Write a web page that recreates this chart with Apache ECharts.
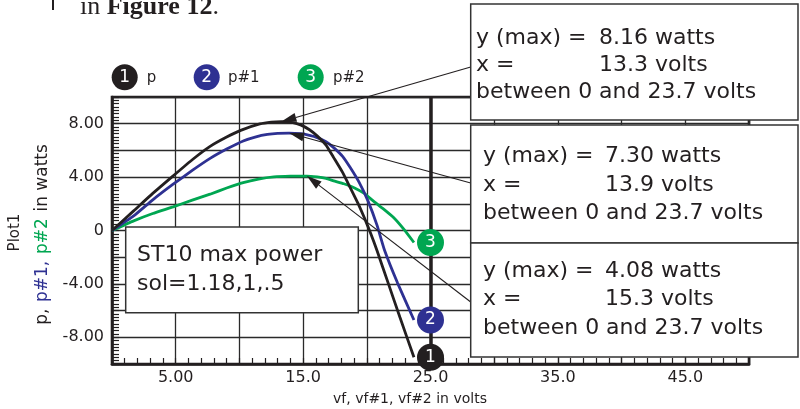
<!DOCTYPE html>
<html>
<head>
<meta charset="utf-8">
<script src="https://cdn.jsdelivr.net/npm/echarts@6/dist/echarts.min.js"></script>
<style>
  html, body { margin: 0; padding: 0; background: #fff; }
  #chart { width: 800px; height: 409px; }
</style>
</head>
<body>
<div id="chart"></div>
<script>
// ST10 power curves: p, p#1, p#2 (watts) against vf, vf#1, vf#2 (volts)
const seriesNames = ['p', 'p#1', 'p#2'];

const pData = [
  [0, 0], [1.7, 1.47], [3.2, 2.78], [4.8, 4.09], [6.3, 5.3], [7.7, 6.3],
  [9.0, 7.0], [10.1, 7.5], [11.6, 7.98], [12.5, 8.12], [13.3, 8.16],
  [14.2, 8.08], [14.8, 7.91], [15.5, 7.55], [16.1, 7.09], [16.8, 6.4],
  [17.4, 5.46], [18.1, 4.35], [18.7, 3.21], [19.3, 2.05], [19.8, 0.97],
  [20.3, -0.2], [20.8, -1.5], [21.7, -4.0], [22.6, -6.5], [23.7, -9.5]
];
const p1Data = [
  [0, 0], [1.7, 1.09], [3.2, 2.3], [4.8, 3.47], [6.3, 4.5], [7.7, 5.4],
  [9.0, 6.1], [10.3, 6.71], [11.3, 7.02], [12.2, 7.2], [13.0, 7.28],
  [13.9, 7.30], [14.8, 7.25], [15.5, 7.12], [16.1, 6.96], [16.8, 6.65],
  [17.4, 6.21], [18.1, 5.55], [18.7, 4.71], [19.4, 3.6], [20.1, 2.2],
  [20.8, 0.4], [21.4, -1.5], [22.4, -3.9], [23.7, -6.7]
];
const p2Data = [
  [0, 0], [1.7, 0.72], [3.2, 1.27], [4.8, 1.77], [6.3, 2.27], [7.7, 2.72],
  [9.0, 3.18], [10.3, 3.59], [11.5, 3.85], [12.7, 4.01], [14.0, 4.07],
  [15.3, 4.08], [16.1, 4.01], [16.8, 3.9], [17.4, 3.72], [18.2, 3.5],
  [19.0, 3.21], [19.8, 2.78], [20.5, 2.22], [21.3, 1.62], [22.1, 0.97],
  [22.9, 0.1], [23.7, -0.9]
];

// Maximum of each curve, as reported in the annotation boxes
const maxY = [8.16, 7.30, 4.08];
const maxX = [13.3, 13.9, 15.3];

// Tick labels shown on the axes
const xTickLabels = { '5': '5.00', '15': '15.0', '25': '25.0', '35': '35.0', '45': '45.0' };
const yTickLabels = { '8': '8.00', '4': '4.00', '0': '0', '-4': '-4.00', '-8': '-8.00' };

const seriesData = [pData, p1Data, p2Data];
const FONT = '"DejaVu Sans"';
const INK = '#231f20';
const colors = ['#231f20', '#2e3192', '#00a651'];
const endTagX = 25;

const chart = echarts.init(document.getElementById('chart'), null, { renderer: 'canvas' });

const option = {
  animation: false,
  backgroundColor: '#fff',
  grid: {
    left: 112, right: 51, top: 97, bottom: 45,
    show: true, borderColor: INK, borderWidth: 2.6, backgroundColor: 'transparent'
  },
  xAxis: {
    type: 'value', min: 0, max: 50, interval: 5,
    axisLine: { show: true, onZero: false, lineStyle: { color: INK, width: 2.6 } },
    axisTick: { show: true, inside: true, length: 6, lineStyle: { color: INK, width: 1.2 } },
    minorTick: { show: true, splitNumber: 5, length: 6, lineStyle: { color: INK, width: 1.2 } },
    splitLine: { show: true, lineStyle: { color: '#2a2a2a', width: 1.3 } },
    axisLabel: {
      formatter: v => xTickLabels[String(v)] || '',
      color: INK, fontFamily: FONT, fontSize: 16, margin: 6
    }
  },
  yAxis: {
    type: 'value', min: -10, max: 10, interval: 2,
    axisLine: { show: true, onZero: false, lineStyle: { color: INK, width: 2.6 } },
    axisTick: { show: true, inside: true, length: 7, lineStyle: { color: INK, width: 1.2 } },
    minorTick: { show: true, splitNumber: 8, length: 7, lineStyle: { color: INK, width: 1.2 } },
    splitLine: { show: true, lineStyle: { color: '#2a2a2a', width: 1.3 } },
    axisLabel: {
      formatter: v => yTickLabels[String(v)] || '',
      color: INK, fontFamily: FONT, fontSize: 16, margin: 8
    }
  },
  series: seriesData.map((d, i) => {
    const s = {
      name: seriesNames[i],
      type: 'line',
      data: d,
      smooth: 0.15,
      showSymbol: false,
      symbol: 'none',
      lineStyle: { color: colors[i], width: 2.8 },
      z: 4 - i,
      markPoint: {
        silent: true,
        symbol: 'circle',
        symbolSize: 27,
        z: 8,
        itemStyle: { color: colors[i] },
        label: {
          show: true, formatter: String(i + 1), color: '#fff',
          fontFamily: FONT, fontSize: 17
        },
        data: [{ coord: [endTagX, d[d.length - 1][1]] }]
      }
    };
    if (i === 0) {
      s.markLine = {
        silent: true,
        symbol: ['none', 'none'],
        z: 1,
        label: { show: false },
        lineStyle: { color: INK, width: 3.5, type: 'solid' },
        data: [{ xAxis: 25 }]
      };
    }
    return s;
  })
};

chart.setOption(option);

// Annotation boxes, arrows, legend and axis titles
const g = [];
const font = (size, weight) => (weight ? weight + ' ' : '') + size + 'px ' + FONT;

// header line
g.push({
  type: 'text', x: 80, y: 7, z: 20,
  style: {
    text: '{a|in }{b|Figure 12}{a|.}',
    verticalAlign: 'middle', align: 'left',
    rich: {
      a: { font: '26px "Liberation Serif"', fill: INK },
      b: { font: 'bold 26px "Liberation Serif"', fill: INK }
    }
  }
});
g.push({ type: 'rect', z: 20, shape: { x: 52, y: 0, width: 2, height: 10 }, style: { fill: INK } });

// legend
const legendCx = [124.7, 206.7, 310.7];
const legendTx = [146.7, 228, 333];
seriesNames.forEach((n, i) => {
  g.push({ type: 'circle', z: 20, shape: { cx: legendCx[i], cy: 77.3, r: 13 }, style: { fill: colors[i] } });
  g.push({
    type: 'text', z: 21, x: legendCx[i], y: 78,
    style: { text: String(i + 1), fill: '#fff', font: font(17), align: 'center', verticalAlign: 'middle' }
  });
  g.push({
    type: 'text', z: 21, x: legendTx[i], y: 78,
    style: { text: n, fill: INK, font: font(15), align: 'left', verticalAlign: 'middle' }
  });
});

// y axis titles
g.push({
  type: 'text', z: 20, x: 15, y: 232.5, rotation: Math.PI / 2,
  style: { text: 'Plot1', fill: INK, font: font(15), align: 'center', verticalAlign: 'middle' }
});
g.push({
  type: 'text', z: 20, x: 43, y: 234.5, rotation: Math.PI / 2,
  style: {
    text: '{k|p,}  {b|p#1,}  {gr|p#2}  {k|in watts}',
    align: 'center', verticalAlign: 'middle',
    rich: {
      k: { font: font(17), fill: colors[0] },
      b: { font: font(17), fill: colors[1] },
      gr: { font: font(17), fill: colors[2] }
    }
  }
});

// x axis title
g.push({
  type: 'text', z: 20, x: 410, y: 399,
  style: { text: 'vf, vf#1, vf#2 in volts', fill: INK, font: font(14), align: 'center', verticalAlign: 'middle' }
});

// scenario box
g.push({
  type: 'rect', z: 15, shape: { x: 125.7, y: 227, width: 232.6, height: 85.7 },
  style: { fill: '#fff', stroke: '#333', lineWidth: 1.5 }
});
g.push({
  type: 'text', z: 16, x: 137, y: 255,
  style: { text: 'ST10 max power', fill: INK, font: font(22), align: 'left', verticalAlign: 'middle' }
});
g.push({
  type: 'text', z: 16, x: 137, y: 284,
  style: { text: 'sol=1.18,1,.5', fill: INK, font: font(22), align: 'left', verticalAlign: 'middle' }
});

// max-value boxes with arrows pointing at each peak
const boxes = [
  { y: 4, h: 116, tx: 476, vx: 599, lines: [38, 65, 92], arrowY: 67 },
  { y: 125, h: 118, tx: 483, vx: 605, lines: [156, 185, 213.5], arrowY: 183 },
  { y: 243, h: 114, tx: 483, vx: 605, lines: [271, 299.5, 328], arrowY: 302 }
];
const boxLeft = 470.7, boxW = 327.3;

boxes.forEach((b, i) => {
  const d = seriesData[i];
  const tip = chart.convertToPixel({ xAxisIndex: 0, yAxisIndex: 0 }, [maxX[i], maxY[i]]);
  const sx = boxLeft, sy = b.arrowY;
  const dx = sx - tip[0], dy = sy - tip[1];
  const len = Math.hypot(dx, dy);
  const ux = dx / len, uy = dy / len;
  const L = 15, W = 4.5;
  const bx = tip[0] + ux * L, by = tip[1] + uy * L;
  g.push({
    type: 'line', z: 12,
    shape: { x1: sx, y1: sy, x2: bx, y2: by },
    style: { stroke: INK, lineWidth: 1.1 }
  });
  g.push({
    type: 'polygon', z: 12,
    shape: { points: [[tip[0], tip[1]], [bx - uy * W, by + ux * W], [bx + uy * W, by - ux * W]] },
    style: { fill: INK }
  });
  g.push({
    type: 'rect', z: 15, shape: { x: boxLeft, y: b.y, width: boxW, height: b.h },
    style: { fill: '#fff', stroke: '#333', lineWidth: 1.5 }
  });
  const txt = (x, y, t) => g.push({
    type: 'text', z: 16, x, y,
    style: { text: t, fill: INK, font: font(22), align: 'left', verticalAlign: 'middle' }
  });
  txt(b.tx, b.lines[0], 'y (max) =');
  txt(b.vx, b.lines[0], maxY[i].toFixed(2) + ' watts');
  txt(b.tx, b.lines[1], 'x =');
  txt(b.vx, b.lines[1], maxX[i].toFixed(1) + ' volts');
  txt(b.tx, b.lines[2], 'between ' + d[0][0] + ' and ' + d[d.length - 1][0] + ' volts');
});

chart.setOption({ graphic: { elements: g } });
</script>
</body>
</html>
